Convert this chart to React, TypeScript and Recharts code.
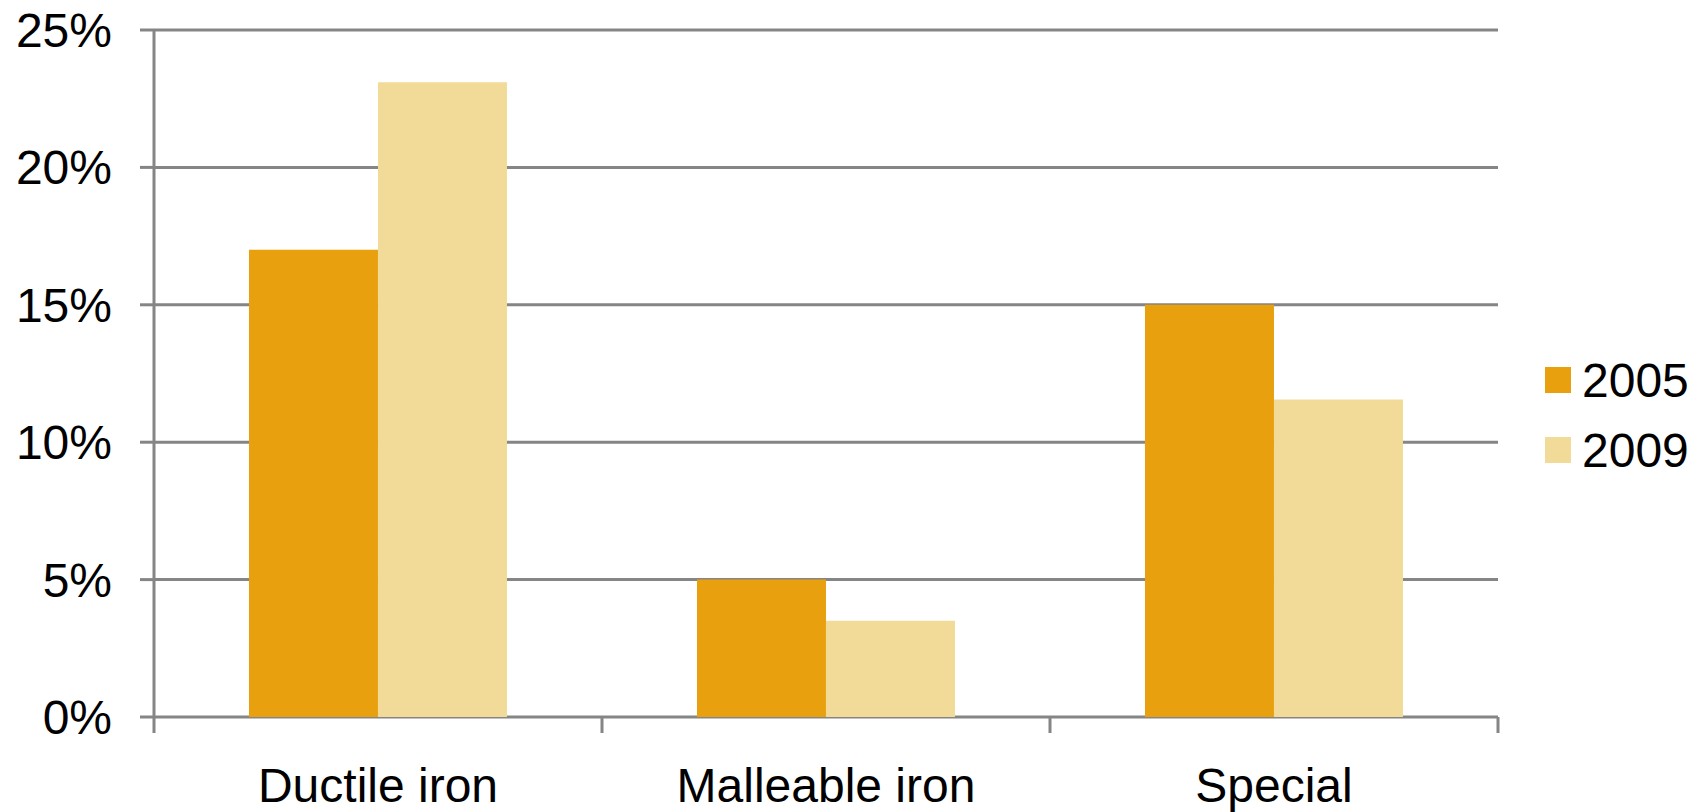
import React from "react";
import {
  Bar,
  BarChart,
  CartesianGrid,
  Legend,
  XAxis,
  YAxis,
} from "recharts";

const categories = ["Ductile iron", "Malleable iron", "Special"];
const share2005 = [17.0, 5.0, 15.0];
const share2009 = [23.1, 3.5, 11.55];
const yTicks = [0, 5, 10, 15, 20, 25];
const boundaryTicks = [0, 1, 2, 3];

const series = [
  { key: "y2005", name: "2005", color: "#E9A00E" },
  { key: "y2009", name: "2009", color: "#F2DB99" },
];

const data = categories.map((name, i) => ({
  name,
  pos: i + 0.5,
  y2005: share2005[i],
  y2009: share2009[i],
}));

const font = "'Liberation Sans', Arial, sans-serif";
const grey = "#858585";
const lineStyle = { stroke: grey, strokeWidth: 3 };
const tickText = { fill: "#000", fontSize: 48, fontFamily: font };
const noLabel = () => <g />;
const pct = (v: number) => `${v}%`;

function LegendBox() {
  return (
    <div style={{ fontFamily: font, fontSize: 48, color: "#000" }}>
      {series.map((s) => (
        <div key={s.key} style={{ display: "flex", alignItems: "center", height: 70 }}>
          <span style={{ width: 26, height: 26, background: s.color, marginRight: 11, display: "inline-block" }} />
          <span>{s.name}</span>
        </div>
      ))}
    </div>
  );
}
const legendContent = () => <LegendBox />;
const legendWrap = { position: "absolute" as const, left: 1545, top: 345, width: 150, height: 0, overflow: "visible" as const };

export default function App() {
  return (
    <div style={{ position: "relative", width: 1700, height: 812, background: "#fff" }}>
      <style>{`body{margin:0}`}</style>
      <BarChart
        width={1700}
        height={812}
        data={data}
        margin={{ top: 30, right: 202, bottom: 0, left: 0 }}
        barCategoryGap="21.2%"
        barGap={0}
      >
        <CartesianGrid vertical={false} stroke={grey} strokeWidth={3} />
        <XAxis
          xAxisId={0}
          type="number"
          dataKey="pos"
          domain={[0, 3]}
          ticks={boundaryTicks}
          interval={0}
          tick={noLabel}
          axisLine={false}
          tickLine={lineStyle}
          tickSize={16}
          height={2}
        />
        <XAxis
          xAxisId="cat"
          dataKey="name"
          axisLine={false}
          tickLine={false}
          tickSize={0}
          tickMargin={49}
          height={93}
          tick={tickText}
        />
        <YAxis
          width={154}
          domain={[0, 25]}
          ticks={yTicks}
          tickFormatter={pct}
          axisLine={lineStyle}
          tickLine={lineStyle}
          tickSize={14}
          tickMargin={28}
          tick={tickText}
        />
        <Legend content={legendContent} wrapperStyle={legendWrap} />
        {series.map((s) => (
          <Bar
            key={s.key}
            xAxisId="cat"
            dataKey={s.key}
            name={s.name}
            fill={s.color}
            isAnimationActive={false}
          />
        ))}
      </BarChart>
    </div>
  );
}
